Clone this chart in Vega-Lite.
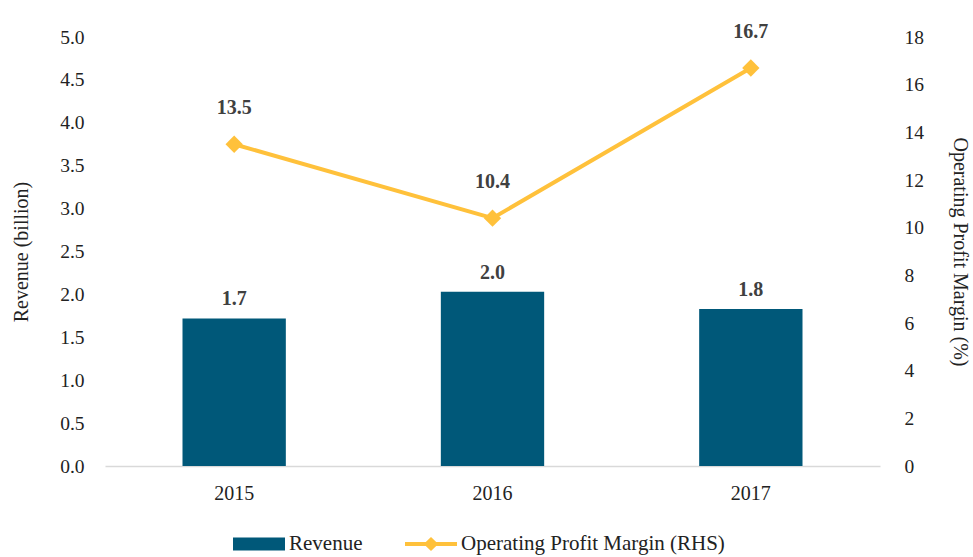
{
  "$schema": "https://vega.github.io/schema/vega-lite/v6.json",
  "autosize": "none",
  "padding": {"left": 105, "top": 37, "right": 93, "bottom": 91},
  "width": 775,
  "height": 429,
  "background": "white",
  "config": {
    "view": {"stroke": null},
    "font": "Liberation Serif",
    "axis": {"labelFont": "Liberation Serif", "titleFont": "Liberation Serif", "labelColor": "#222", "titleColor": "#222", "titleFontWeight": "normal", "grid": false, "ticks": false},
    "legend": {"labelFont": "Liberation Serif"}
  },
  "data": {
    "values": [
      {"year": "2015", "revenue": 1.72, "margin": 13.5},
      {"year": "2016", "revenue": 2.03, "margin": 10.4},
      {"year": "2017", "revenue": 1.83, "margin": 16.7}
    ]
  },
  "encoding": {
    "x": {
      "field": "year", "type": "nominal",
      "scale": {"paddingInner": 0.6, "paddingOuter": 0.3},
      "axis": {"title": null, "labelAngle": 0, "labelFontSize": 20, "labelPadding": 17, "domainColor": "#d9d9d9", "domainWidth": 1.5}
    }
  },
  "layer": [
    {
      "layer": [
        {
          "mark": {"type": "bar", "color": "#005879"},
          "encoding": {
            "y": {"field": "revenue", "type": "quantitative",
              "scale": {"domain": [0, 5]},
              "axis": {"title": "Revenue (billion)", "values": [0,0.5,1,1.5,2,2.5,3,3.5,4,4.5,5], "format": ".1f", "labelFontSize": 19.5, "titleFontSize": 20, "labelPadding": 21, "titlePadding": 28, "domain": false}},
            "color": {"datum": "Revenue", "type": "nominal",
              "scale": {"domain": ["Revenue", "Operating Profit Margin (RHS)"], "range": ["#005879", "#FFC13B"]},
              "legend": {
                "title": null, "orient": "none", "legendX": 128, "legendY": 481, "direction": "horizontal",
                "labelFontSize": 21, "labelColor": "#222", "labelLimit": 400, "symbolSize": 2704, "labelOffset": 4, "columnPadding": 42,
                "encode": {
                  "symbols": {"update": {
                    "shape": {"signal": "datum.value === 'Revenue' ? 'M-1,-0.25H1V0.25H-1Z' : 'M-1,-0.075H-0.2L0,-0.27L0.2,-0.075H1V0.075H0.2L0,0.27L-0.2,0.075H-1Z'"},
                    "fill": {"signal": "datum.value === 'Revenue' ? '#005879' : '#FFC13B'"},
                    "stroke": {"value": "transparent"},
                    "strokeWidth": {"value": 0},
                    "opacity": {"value": 1},
                    "fillOpacity": {"value": 1}
                  }}
                }
              }}
          }
        },
        {
          "mark": {"type": "text", "dy": -19, "fontSize": 20, "fontWeight": "bold", "color": "#404040", "font": "Liberation Serif"},
          "encoding": {
            "y": {"field": "revenue", "type": "quantitative"},
            "text": {"field": "revenue", "type": "quantitative", "format": ".1f"}
          }
        }
      ]
    },
    {
      "layer": [
        {
          "mark": {"type": "line", "strokeWidth": 4, "point": {"shape": "diamond", "size": 300, "filled": true}},
          "encoding": {
            "y": {"field": "margin", "type": "quantitative",
              "scale": {"domain": [0, 18]},
              "axis": {"orient": "right", "title": "Operating Profit Margin (%)", "values": [0,2,4,6,8,10,12,14,16,18], "labelFontSize": 19.5, "titleFontSize": 20, "labelPadding": 24, "titlePadding": 26, "titleAngle": 90, "domain": false}},
            "color": {"datum": "Operating Profit Margin (RHS)", "type": "nominal"}
          }
        },
        {
          "mark": {"type": "text", "dy": -36, "fontSize": 20, "fontWeight": "bold", "color": "#404040", "font": "Liberation Serif"},
          "encoding": {
            "y": {"field": "margin", "type": "quantitative"},
            "text": {"field": "margin", "type": "quantitative", "format": ".1f"}
          }
        }
      ]
    }
  ],
  "resolve": {"scale": {"y": "independent"}}
}
